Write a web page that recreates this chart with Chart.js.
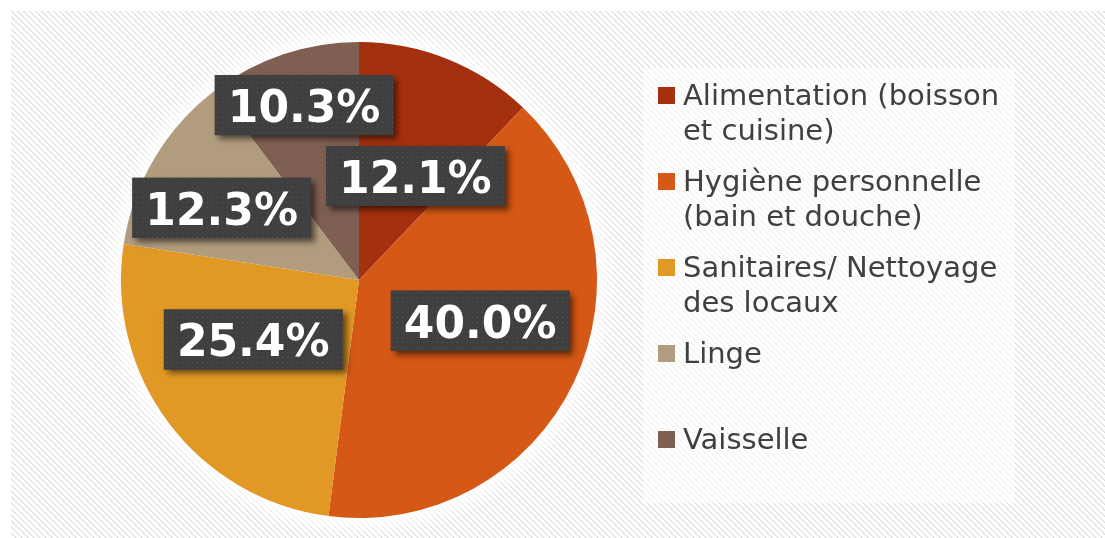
<!DOCTYPE html>
<html>
<head>
<meta charset="utf-8">
<script src="https://cdn.jsdelivr.net/npm/chart.js@4.4.1/dist/chart.umd.min.js"></script>
<style>
  html, body { margin: 0; padding: 0; background: #fff; }
  #wrap { width: 1105px; height: 538px; }
</style>
</head>
<body>
<div id="wrap"><canvas id="pieChart" width="1105" height="538"></canvas></div>
<script>
// Données du graphique
const categories = [
  'Alimentation (boisson et cuisine)',
  'Hygiène personnelle (bain et douche)',
  'Sanitaires/ Nettoyage des locaux',
  'Linge',
  'Vaisselle'
];
const shares = [12.1, 40.0, 25.4, 12.3, 10.3];
const sliceColors = ['#A5300F', '#D55816', '#E19825', '#B19C7D', '#7F5F52'];

// Placement des étiquettes (décalage angulaire en degrés, distance relative au rayon)
const labelTurn = [6.7, -6.9, 7.6, -3.1, 1.1];
const labelDist = [0.497, 0.537, 0.51, 0.652, 0.77];

function makePattern(ctx, size, paint) {
  const c = document.createElement('canvas');
  c.width = c.height = size;
  paint(c.getContext('2d'));
  return ctx.createPattern(c, 'repeat');
}

let stripes = null, dots = null;

// Fond hachuré + panneau clair de la légende
const backgroundPlugin = {
  id: 'background',
  beforeDraw(chart) {
    const ctx = chart.ctx;
    if (!stripes) {
      stripes = makePattern(ctx, 6, g => {
        g.fillStyle = '#fff';
        g.fillRect(0, 0, 6, 6);
        for (let i = 0; i < 6; i++) {
          g.fillStyle = '#dadada';
          g.fillRect(i, i, 1, 1);
          g.fillStyle = '#efefef';
          g.fillRect((i + 1) % 6, i, 1, 1);
        }
      });
    }
    ctx.save();
    ctx.fillStyle = '#fff';
    ctx.fillRect(0, 0, chart.width, chart.height);
    ctx.fillStyle = stripes;
    ctx.fillRect(11, 11, chart.width - 11, chart.height - 11);
    ctx.fillStyle = 'rgba(255,255,255,0.62)';
    ctx.fillRect(643, 68, 372, 435);
    ctx.restore();
  }
};

// Halo blanc autour du camembert
const glowPlugin = {
  id: 'glow',
  beforeDatasetsDraw(chart) {
    const arc = chart.getDatasetMeta(0).data[0];
    if (!arc) return;
    const p = arc.getProps(['x', 'y', 'outerRadius'], true);
    const ctx = chart.ctx;
    ctx.save();
    ctx.shadowColor = '#fff';
    ctx.shadowBlur = 26;
    ctx.fillStyle = '#fff';
    for (let k = 0; k < 3; k++) {
      ctx.beginPath();
      ctx.arc(p.x, p.y, p.outerRadius - 1, 0, Math.PI * 2);
      ctx.fill();
    }
    ctx.restore();
  }
};

// Étiquettes de pourcentage dans des boîtes sombres
const labelPlugin = {
  id: 'pctLabels',
  afterDatasetsDraw(chart) {
    const ctx = chart.ctx;
    if (!dots) {
      dots = makePattern(ctx, 5, g => {
        g.fillStyle = '#3f3f3f';
        g.fillRect(0, 0, 5, 5);
        g.fillStyle = '#545454';
        g.fillRect(2, 2, 1, 1);
      });
    }
    const values = chart.data.datasets[0].data;
    chart.getDatasetMeta(0).data.forEach((arc, i) => {
      const p = arc.getProps(['x', 'y', 'startAngle', 'endAngle', 'outerRadius'], true);
      const mid = (p.startAngle + p.endAngle) / 2 + labelTurn[i] * Math.PI / 180;
      const d = p.outerRadius * labelDist[i];
      const cx = p.x + Math.cos(mid) * d;
      const cy = p.y + Math.sin(mid) * d;
      const text = values[i].toFixed(1) + '%';
      ctx.save();
      ctx.font = 'bold 44px "DejaVu Sans"';
      const w = ctx.measureText(text).width + 26;
      const h = 60;
      ctx.shadowColor = 'rgba(0,0,0,0.55)';
      ctx.shadowBlur = 6;
      ctx.shadowOffsetX = 4;
      ctx.shadowOffsetY = 4;
      ctx.fillStyle = '#3f3f3f';
      ctx.fillRect(cx - w / 2, cy - h / 2, w, h);
      ctx.shadowColor = 'transparent';
      ctx.fillStyle = dots;
      ctx.fillRect(cx - w / 2, cy - h / 2, w, h);
      ctx.fillStyle = '#fff';
      ctx.textAlign = 'center';
      ctx.textBaseline = 'alphabetic';
      ctx.fillText(text, cx, cy + 17);
      ctx.restore();
    });
  }
};

function wrapText(ctx, text, maxWidth) {
  const words = text.split(' ');
  const lines = [];
  let line = '';
  words.forEach(w => {
    const test = line ? line + ' ' + w : w;
    if (line && ctx.measureText(test).width > maxWidth) {
      lines.push(line);
      line = w;
    } else {
      line = test;
    }
  });
  if (line) lines.push(line);
  return lines;
}

// Légende à droite
const legendPlugin = {
  id: 'sideLegend',
  afterDraw(chart) {
    const ctx = chart.ctx;
    const colors = chart.data.datasets[0].backgroundColor;
    ctx.save();
    ctx.font = '29px "DejaVu Sans"';
    ctx.textBaseline = 'alphabetic';
    chart.data.labels.forEach((label, i) => {
      const top = 87 + i * 86;
      ctx.fillStyle = colors[i];
      ctx.fillRect(658, top, 17, 17);
      ctx.fillStyle = '#404040';
      wrapText(ctx, label, 328).forEach((ln, k) => {
        ctx.fillText(ln, 683, top + 18 + k * 35);
      });
    });
    ctx.restore();
  }
};

new Chart(document.getElementById('pieChart').getContext('2d'), {
  type: 'pie',
  data: {
    labels: categories,
    datasets: [{
      data: shares,
      backgroundColor: sliceColors,
      borderWidth: 0
    }]
  },
  options: {
    responsive: false,
    devicePixelRatio: 1,
    animation: false,
    events: [],
    layout: { padding: { left: 121, right: 508, top: 42, bottom: 20 } },
    plugins: {
      legend: { display: false },
      tooltip: { enabled: false }
    }
  },
  plugins: [backgroundPlugin, glowPlugin, labelPlugin, legendPlugin]
});
</script>
</body>
</html>
